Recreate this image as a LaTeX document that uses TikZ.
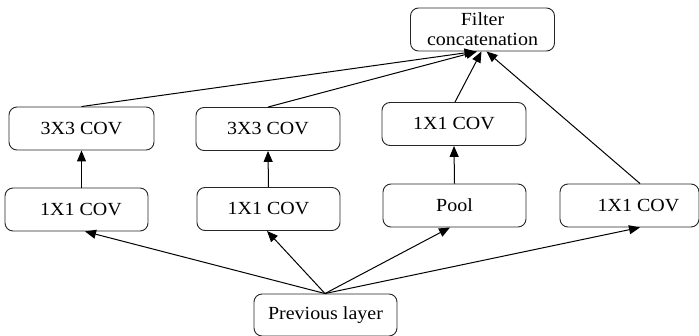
\documentclass[tikz,border=0pt]{standalone}
\usepackage{fontspec}
\setmainfont{Liberation Serif}[FakeStretch=1.08]
\usetikzlibrary{arrows.meta}
\begin{document}
\begin{tikzpicture}[x=1pt,y=-1pt,
  box/.style={draw=black!85, line width=0.9pt, rounded corners=8pt,
    minimum width=144pt, minimum height=43pt, inner sep=0pt,
    font=\fontsize{18.5}{20}\selectfont, align=center},
  conn/.style={draw=black, line width=1pt,
    -{Triangle[length=11pt,width=9pt]}}]
\useasboundingbox (0,0) rectangle (699,336);
\node[box] (F) at (482.5,29.5) {Filter\\concatenation};
\node[box, minimum width=145pt] (A3) at (81.5,128.5) {3X3 COV};
\node[box] (B3) at (268,129) {3X3 COV};
\node[box] (C1) at (454,124) {1X1 COV};
\node[box, minimum width=143pt] (A1) at (76.5,209.5) {\hspace*{9pt}1X1 COV};
\node[box, minimum width=143pt] (B1) at (268.5,209) {1X1 COV};
\node[box, minimum width=143pt] (PO) at (454.5,205.5) {Pool};
\node[box, minimum width=139pt] (D1) at (629.5,205.5) {\hspace*{18pt}1X1 COV};
\node[box, minimum width=143pt, minimum height=42pt] (P) at (325.5,315) {Previous layer};
% previous layer to first row
\draw[conn] ([xshift=-0.5pt]P.north) -- ([xshift=8.5pt]A1.south);
\draw[conn] ([xshift=-0.5pt]P.north) -- ([xshift=-1.5pt]B1.south);
\draw[conn] ([xshift=-0.5pt]P.north) -- ([xshift=-4.5pt]PO.south);
\draw[conn] ([xshift=-0.5pt]P.north) -- ([xshift=10.5pt]D1.south);
% vertical arrows
\draw[conn] ([xshift=5pt]A1.north) -- (A3.south);
\draw[conn] (B1.north) -- (B3.south);
\draw[conn] (PO.north) -- (C1.south);
% to filter concatenation
\draw[conn] (A3.north) -- ([xshift=-7pt]F.south);
\draw[conn] (B3.north) -- ([xshift=-5.5pt]F.south);
\draw[conn] ([xshift=1pt]C1.north) -- ([xshift=-1pt]F.south);
\draw[conn] ([xshift=10.5pt]D1.north) -- ([xshift=4pt]F.south);
\end{tikzpicture}
\end{document}
